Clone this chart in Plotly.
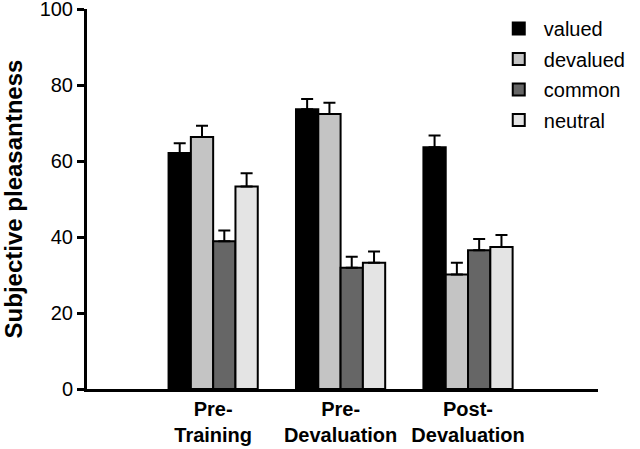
import plotly.graph_objects as go

categories = ["Pre-<br>Training", "Pre-<br>Devaluation", "Post-<br>Devaluation"]
series_names = ["valued", "devalued", "common", "neutral"]
valued = [62.1, 73.6, 63.6]
devalued = [66.3, 72.4, 30.1]
common = [38.9, 31.9, 36.5]
neutral = [53.3, 33.2, 37.4]
valued_err = [2.6, 2.7, 3.1]
devalued_err = [3.0, 2.9, 3.1]
common_err = [2.8, 2.9, 3.0]
neutral_err = [3.5, 3.0, 3.1]
y_ticks = [0, 20, 40, 60, 80, 100]

values = [valued, devalued, common, neutral]
errors = [valued_err, devalued_err, common_err, neutral_err]
colors = ["#000000", "#c4c4c4", "#666666", "#e4e4e4"]

fig = go.Figure()
for name, vals, errs, col in zip(series_names, values, errors, colors):
    fig.add_trace(go.Bar(
        name=name, legendgroup=name, x=list(range(len(categories))), y=vals,
        marker=dict(color=col, line=dict(color="black", width=2)),
        error_y=dict(type="data", array=errs, arrayminus=[0] * len(errs),
                     symmetric=False, color="black", thickness=2, width=6),
    ))

fig.update_layout(
    width=640, height=449,
    margin=dict(l=87, r=24, t=9, b=60),
    plot_bgcolor="white", paper_bgcolor="white",
    barmode="group", bargap=0.3, bargroupgap=0,
    font=dict(family="Liberation Sans, Arial, sans-serif", color="black"),
    showlegend=True,
    legend=dict(x=0.796, y=1.0, xanchor="left", yanchor="top",
                font=dict(size=20), bgcolor="rgba(0,0,0,0)",
                tracegroupgap=1.5, itemwidth=40),
)
fig.update_xaxes(
    tickmode="array", tickvals=list(range(len(categories))), ticktext=[f"<b>{c}</b>" for c in categories],
    range=[-0.99, 3.02], showline=True, linecolor="black", linewidth=3,
    ticks="", tickfont=dict(size=20), tickangle=0, showgrid=False, zeroline=False, automargin=False,
)
fig.update_yaxes(
    range=[0, 100], tickvals=y_ticks, showline=True, linecolor="black", linewidth=3,
    ticks="outside", ticklen=7, tickwidth=2.5, tickcolor="black",
    tickfont=dict(size=20), showgrid=False, zeroline=False, automargin=False,
    ticklabeloverflow="allow",
    title=dict(text="<b>Subjective pleasantness</b>", font=dict(size=24), standoff=30),
)
fig.write_html("out.html", config={"displayModeBar": False},
               post_script="document.body.style.margin='0';")
